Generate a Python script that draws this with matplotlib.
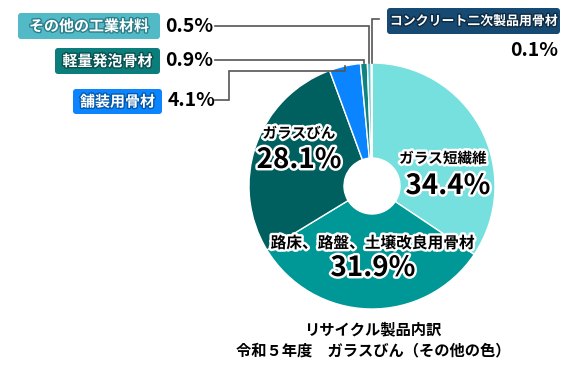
import numpy as np
import matplotlib
matplotlib.use("Agg")
import matplotlib.pyplot as plt
from matplotlib.patches import FancyBboxPatch
import matplotlib.patheffects as pe

plt.rcParams['font.family'] = ['Noto Sans CJK JP', 'DejaVu Sans']

# ---- data ----
categories = ['ガラス短繊維', '路床、路盤、土壌改良用骨材', 'ガラスびん', '舗装用骨材',
              '軽量発泡骨材', 'その他の工業材料', 'コンクリート二次製品用骨材']
values = [34.4, 31.9, 28.1, 4.1, 0.9, 0.5, 0.1]
colors = ['#76E0DF', '#009896', '#00605F', '#0A84FF', '#0E8481', '#5BC0CC', '#1B4F72']
title_lines = ['リサイクル製品内訳', '令和５年度　ガラスびん（その他の色）']

W, H = 583, 373
fig = plt.figure(figsize=(W / 100, H / 100), dpi=100)
ax = fig.add_axes([0, 0, 1, 1])
ax.set_xlim(0, W)
ax.set_ylim(0, H)
ax.set_aspect('equal')
ax.axis('off')

def Y(y):
    return H - y

cx, cy, R, r_in = 372, 186, 123, 28
wedges, _ = ax.pie(values, colors=colors, startangle=90, counterclock=False,
                   center=(cx, Y(cy)), radius=R,
                   wedgeprops=dict(width=R - r_in, edgecolor='white', linewidth=1))
ax.set_xlim(0, W)
ax.set_ylim(0, H)

def mid_point(i):
    w = wedges[i]
    th = np.deg2rad((w.theta1 + w.theta2) / 2)
    return cx + R * np.cos(th), Y(cy) + R * np.sin(th)

outline = [pe.Stroke(linewidth=3.5, foreground='white'), pe.Normal()]

# inside labels
inside = [(0, 443, 158, 448, 186, 10.5), (1, 373, 243, 373, 268, 11.3), (2, 299, 133, 299, 160, 10.5)]
for i, lx, ly, px, py, fs in inside:
    ax.text(lx, Y(ly), categories[i], ha='center', va='center', fontsize=fs,
            fontweight='bold', color='black', path_effects=outline)
    ax.text(px, Y(py), f'{values[i]}%', ha='center', va='center', fontsize=20,
            fontweight='bold', color='black', path_effects=outline)

# boxed labels
boxes = [
    (5, 18, 13, 142, 26, '#52B9C7', '#2C7F8A', 10.8),
    (4, 55, 48, 105, 26, '#0B7E7C', '#064F4E', 10.8),
    (3, 73, 89, 89, 25, '#0A84FF', '#0659A8', 10.8),
    (6, 387, 8, 173, 26, '#174A72', '#0C2A42', 9.3),
]
for i, x0, y0, bw, bh, fc, sc, fs in boxes:
    p = FancyBboxPatch((x0, Y(y0 + bh)), bw, bh, boxstyle='round,pad=0,rounding_size=3',
                       fc=fc, ec='none')
    ax.add_patch(p)
    ax.text(x0 + bw / 2, Y(y0 + bh / 2), categories[i], ha='center', va='center',
            fontsize=fs, fontweight='bold', color='white',
            path_effects=[pe.Stroke(linewidth=2, foreground=sc), pe.Normal()])

# percentages outside
pk = dict(va='center', fontsize=14, fontweight='bold', color='black')
ax.text(165, Y(27), f'{values[5]}%', ha='left', **pk)
ax.text(165, Y(61), f'{values[4]}%', ha='left', **pk)
ax.text(168, Y(101), f'{values[3]}%', ha='left', **pk)
ax.text(558, Y(50), f'{values[6]}%', ha='right', **pk)

# leader lines
lc = dict(color='#555555', lw=1.2, solid_joinstyle='miter')
x5, y5 = mid_point(5)
ax.plot([215, x5, x5], [Y(26), Y(26), y5], **lc)
x4, y4 = mid_point(4)
ax.plot([215, x4, x4], [Y(60), Y(60), y4], **lc)
x3, y3 = mid_point(3)
ax.plot([215, 229, 229, x3, x3], [Y(100), Y(100), Y(71), Y(71), y3], **lc)
x6, y6 = mid_point(6)
ax.plot([379, x6, x6], [Y(19), Y(19), y6], **lc)

# title
ax.text(373, Y(329), title_lines[0], ha='center', va='center', fontsize=11,
        fontweight='bold', color='black')
ax.text(373, Y(350), title_lines[1], ha='center', va='center', fontsize=11,
        fontweight='bold', color='black')

fig.savefig('out.png', dpi=100)
